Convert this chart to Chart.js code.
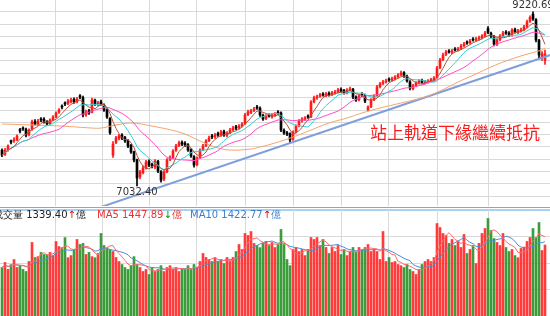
<!DOCTYPE html>
<html>
<head>
<meta charset="utf-8">
<script src="https://cdn.jsdelivr.net/npm/chart.js@4.4.0/dist/chart.umd.min.js"></script>
<style>
  body { margin: 0; width: 550px; height: 316px; overflow: hidden; background: #fff; position: relative; font-family: "DejaVu Sans", sans-serif; }
  #priceBox { position: absolute; left: 0; top: 0; width: 550px; height: 206px; }
  #volBox { position: absolute; left: 0; top: 210px; width: 550px; height: 106px; }
  .sepPink { position: absolute; left: 0; top: 207px; width: 550px; height: 1px; background: #ff66e6; }
  .sepBlue { position: absolute; left: 0; top: 209px; width: 550px; height: 2px; background: #a9d2f2; }
  .head { position: absolute; top: 208px; font-size: 10px; line-height: 13px; white-space: nowrap; }
  #note { position: absolute; left: 370px; top: 119px; font-family: "Noto Sans CJK TC", sans-serif; font-size: 17px; color: #ff1a1a; white-space: nowrap; }
</style>
</head>
<body>
<div id="priceBox"><canvas id="priceChart" width="550" height="206"></canvas></div>
<div class="sepPink"></div>
<div class="sepBlue"></div>
<div id="volBox"><canvas id="volChart" width="550" height="106"></canvas></div>
<div class="head" style="left:-7px;color:#222">成交量 1339.40<span style="color:#e00">↑</span>億</div>
<div class="head" style="left:97px;color:#f03030">MA5 1447.89<span style="color:#080">↓</span>億</div>
<div class="head" style="left:190px;color:#3a7ec8">MA10 1422.77<span style="color:#e00">↑</span>億</div>
<div id="note">站上軌道下緣繼續抵抗</div>
<script>
const opens = [7480,7430,7490,7600,7600,7615,7740,7760,7740,7680,7745,7840,7800,7875,7870,7840,7815,7865,7900,7960,
  8035,8075,8070,8090,8120,8090,8165,8140,7930,7975,7960,8110,8060,8090,8050,7990,7880,7420,7580,7630,
  7670,7640,7600,7540,7460,7360,7150,7200,7260,7340,7300,7270,7340,7210,7120,7210,7370,7390,7480,7540,
  7580,7570,7550,7490,7400,7300,7390,7490,7540,7600,7660,7650,7690,7670,7715,7670,7700,7740,7775,7760,
  7790,7815,7930,7955,7985,8020,8010,7920,7880,7920,7900,7920,7960,7950,7730,7700,7690,7620,7715,7790,
  7850,7870,7905,7900,8090,8140,8160,8185,8170,8195,8180,8200,8215,8245,8230,8205,8240,8245,8150,8115,
  8190,8170,7990,8030,8120,8170,8280,8320,8340,8370,8365,8380,8405,8430,8455,8410,8340,8255,8290,8330,
  8355,8325,8340,8355,8365,8395,8520,8620,8685,8725,8710,8750,8740,8760,8795,8835,8830,8875,8865,8880,
  8895,8920,9010,8950,8910,8810,8870,8920,8960,8950,8930,8995,8960,8980,8995,9035,9100,9190,9120,8860,
  8640,8610];
const highs = [7500,7505,7550,7610,7640,7675,7755,7775,7760,7750,7860,7865,7870,7890,7890,7855,7875,7915,7965,8005,
  8050,8090,8120,8135,8140,8145,8180,8160,7985,7995,8135,8125,8095,8110,8065,8000,7890,7590,7655,7680,
  7690,7655,7615,7555,7470,7370,7230,7285,7355,7360,7320,7365,7355,7225,7225,7375,7410,7490,7555,7595,
  7600,7590,7565,7500,7415,7400,7500,7555,7615,7660,7680,7695,7710,7730,7735,7715,7755,7780,7795,7805,
  7830,7945,7985,7995,8020,8045,8025,7935,7930,7940,7945,7955,7980,7965,7750,7720,7700,7725,7800,7865,
  7890,7905,7925,8105,8160,8175,8195,8205,8210,8215,8220,8235,8260,8265,8245,8255,8275,8260,8165,8180,
  8205,8185,8040,8130,8180,8295,8335,8360,8375,8390,8400,8420,8445,8475,8470,8425,8355,8310,8345,8370,
  8375,8360,8370,8385,8405,8535,8635,8700,8735,8745,8750,8770,8775,8810,8835,8855,8875,8895,8900,8915,
  8935,8975,9035,8965,8925,8885,8935,8975,8985,8970,9010,9015,9000,9015,9050,9115,9170,9220.69,9135,8875,
  8720,8740];
const lows = [7400,7415,7470,7560,7580,7600,7700,7730,7650,7660,7730,7795,7790,7840,7820,7790,7800,7850,7890,7945,
  8000,8040,8055,8075,8070,8075,8130,7900,7905,7930,7950,8045,8040,8045,7970,7880,7680,7390,7565,7610,
  7615,7580,7515,7440,7335,7032.4,7120,7185,7245,7275,7260,7250,7200,7080,7100,7200,7350,7375,7465,7525,
  7540,7525,7465,7390,7270,7285,7375,7475,7525,7590,7625,7630,7655,7655,7655,7650,7690,7725,7740,7745,
  7775,7805,7915,7940,7965,7995,7905,7855,7865,7895,7885,7905,7930,7715,7680,7665,7580,7605,7700,7775,
  7835,7855,7880,7890,8075,8120,8145,8160,8155,8160,8165,8185,8200,8210,8185,8190,8225,8130,8095,8100,
  8155,8080,7975,8015,8105,8160,8265,8305,8325,8345,8350,8365,8390,8415,8395,8335,8240,8240,8275,8315,
  8320,8310,8325,8340,8350,8385,8505,8605,8670,8700,8695,8725,8725,8745,8780,8810,8815,8850,8850,8865,
  8880,8905,8945,8895,8790,8795,8855,8905,8935,8910,8915,8950,8945,8965,8980,9020,9085,9110,8840,8640,
  8610,8560];
const closes = [7421,7484,7534,7584,7610,7660,7723,7748,7672,7735,7836,7811,7848,7861,7836,7811,7861,7898,7949,7986,
  8024,8062,8099,8112,8087,8125,8150,7924,7961,7949,8112,8062,8074,8062,7986,7898,7700,7560,7635,7660,
  7635,7597,7534,7459,7358,7132,7208,7258,7333,7296,7283,7346,7220,7107,7208,7358,7384,7471,7534,7572,
  7559,7547,7484,7409,7296,7384,7484,7534,7597,7635,7647,7672,7672,7710,7672,7698,7735,7760,7760,7785,
  7811,7924,7961,7974,7999,8012,7924,7873,7911,7911,7924,7936,7949,7735,7698,7685,7610,7710,7785,7848,
  7873,7886,7898,8087,8137,8150,8175,8175,8187,8175,8200,8212,8238,8225,8200,8238,8250,8150,8112,8162,
  8175,8099,8024,8112,8162,8275,8313,8338,8351,8363,8376,8401,8426,8451,8413,8351,8263,8288,8326,8351,
  8338,8338,8351,8363,8388,8514,8614,8677,8715,8715,8727,8740,8753,8790,8815,8828,8853,8866,8878,8891,
  8916,8953,8960,8916,8815,8866,8916,8953,8953,8928,8991,8966,8979,8991,9029,9092,9150,9130,8866,8677,
  8690,8690];
const volumes = [915,1010,880,970,1065,915,950,880,840,1030,1387,1104,1120,1200,1160,1160,1200,1140,1406,1310,
  1290,1480,1100,1140,1255,1444,1350,1370,1160,1200,1120,1100,1180,1557,1330,1290,1255,1217,1104,1028,
  972,915,878,950,1120,972,915,840,878,783,915,840,878,950,840,915,950,878,915,840,
  896,878,950,878,972,915,1028,1180,1104,1066,1028,1104,1028,1066,990,1104,1028,1104,1217,1349,
  1255,1557,1519,1594,1370,1330,1290,1370,1406,1330,1387,1293,1349,1632,1349,1066,950,1255,1293,1217,
  1255,1140,1255,1481,1444,1481,1330,1444,1293,1180,1293,1217,1330,1160,1255,1140,1217,1293,1200,1293,
  1255,1293,1349,1217,1255,1217,1066,1594,1028,1104,1010,1028,972,950,915,972,878,840,783,878,
  972,1028,1066,1028,1104,1745,1670,1557,1519,1370,1444,1330,1406,1293,1538,1180,1255,1330,990,1370,
  1557,1651,1840,1613,1462,1387,1330,1557,1293,1217,1255,1140,1100,1274,1300,1406,1481,1651,1481,1764,
  1236,1339.4];

// long moving average
const longMaDays = [0,10,20,30,33,38,43,50,60,66,71,76,83,86,91,97,103,109,115,120,126,133,141,146,152,158,163,168,174,180,181];
const longMaValues = [7811,7798,7785,7760,7760,7798,7823,7785,7698,7597,7522,7484,7497,7522,7572,7647,7735,7823,7886,7949,8012,8074,8150,8225,8338,8439,8527,8602,8677,8740,8765];

// lower channel line
const trendDays = [30, 183];
const trendValues = [6730, 8680];

const monthLines = [17.8, 33.5, 49.2, 64.8, 81.2, 97.2, 113.2, 128.8, 145.2, 162.2];
const priceLines = [9221,9066,8912,8757,8603,8449,8294,8140,7985,7831,7677,7522,7368,7213,7059,6904];
const volumeLines = [500, 1000, 1500];

const UP = "#ff1a1a";
const DOWN = "#000000";
const VOL_UP = "#ff3b3b";
const VOL_DOWN = "#3c9c3c";
const GRID = "#d9d9d9";

const days = closes.map((c, i) => i);
const isUp = days.map(i => closes[i] >= opens[i]);

function movingAverage(values, n) {
    return values.map((v, i) => {
        const part = values.slice(Math.max(0, i - n + 1), i + 1);
        return part.reduce((a, b) => a + b, 0) / part.length;
    });
}

function dayAxis() {
    return {
        type: "linear",
        min: -0.667,
        max: 182.667,
        offset: false,
        bounds: "data",
        grace: 0,
        afterBuildTicks: axis => { axis.ticks = monthLines.map(v => ({ value: v })); },
        ticks: { display: false },
        grid: { color: GRID, drawTicks: false, offset: false },
        border: { display: false },
    };
}

function valueAxis(min, max, lines) {
    return {
        min: min,
        max: max,
        beginAtZero: false,
        afterBuildTicks: axis => { axis.ticks = lines.map(v => ({ value: v })); },
        ticks: { display: false },
        grid: { color: GRID, drawTicks: false },
        border: { display: false },
    };
}

function maLine(values, color) {
    return {
        type: "line",
        data: days.map(i => ({ x: i, y: values[i] })),
        borderColor: color,
        borderWidth: 1,
        pointRadius: 0,
        tension: 0,
        order: 0,
    };
}

const extremeLabels = {
    id: "extremeLabels",
    afterDatasetsDraw(chart) {
        const { ctx, scales: { x, y } } = chart;
        const hi = highs.indexOf(Math.max(...highs));
        const lo = lows.indexOf(Math.min(...lows));
        ctx.save();
        ctx.font = "10px 'DejaVu Sans'";
        ctx.fillStyle = "#333";
        ctx.textAlign = "center";
        ctx.textBaseline = "bottom";
        ctx.fillText(highs[hi].toFixed(2), x.getPixelForValue(hi), y.getPixelForValue(highs[hi]) - 1);
        ctx.textBaseline = "top";
        ctx.fillText(lows[lo].toFixed(2), x.getPixelForValue(lo), y.getPixelForValue(lows[lo]) + 1);
        ctx.restore();
    },
};

new Chart("priceChart", {
    type: "bar",
    data: {
        datasets: [
            {
                data: days.map(i => ({ x: i, y: [lows[i], highs[i]] })),
                backgroundColor: days.map(i => isUp[i] ? UP : DOWN),
                barThickness: 1,
                grouped: false,
                order: 2,
            },
            {
                data: days.map(i => ({ x: i, y: [opens[i], closes[i]] })),
                backgroundColor: days.map(i => isUp[i] ? UP : DOWN),
                barThickness: 2,
                minBarLength: 1,
                grouped: false,
                order: 1,
            },
            maLine(movingAverage(closes, 5), "#b0563a"),
            maLine(movingAverage(closes, 10), "#35d0d8"),
            maLine(movingAverage(closes, 20), "#ff4fc4"),
            {
                type: "line",
                data: longMaDays.map((d, k) => ({ x: d, y: longMaValues[k] })),
                borderColor: "#f5a46c",
                borderWidth: 1,
                pointRadius: 0,
                tension: 0.4,
                order: 0,
            },
            {
                type: "line",
                data: trendDays.map((d, k) => ({ x: d, y: trendValues[k] })),
                borderColor: "#7f9fdc",
                borderWidth: 2,
                pointRadius: 0,
                order: 0,
            },
        ],
    },
    options: {
        responsive: false,
        animation: false,
        devicePixelRatio: 1,
        layout: { padding: 0, autoPadding: false },
        plugins: { legend: { display: false }, tooltip: { enabled: false } },
        scales: {
            x: dayAxis(),
            y: valueAxis(6781, 9368, priceLines),
        },
    },
    plugins: [extremeLabels],
});

new Chart("volChart", {
    type: "bar",
    data: {
        datasets: [
            {
                data: days.map(i => ({ x: i, y: volumes[i] })),
                backgroundColor: days.map(i => isUp[i] ? VOL_UP : VOL_DOWN),
                barThickness: 2,
                order: 1,
            },
            maLine(movingAverage(volumes, 5), "#ff6a6a"),
            maLine(movingAverage(volumes, 10), "#4a90d8"),
        ],
    },
    options: {
        responsive: false,
        animation: false,
        devicePixelRatio: 1,
        layout: { padding: 0, autoPadding: false },
        plugins: { legend: { display: false }, tooltip: { enabled: false } },
        scales: {
            x: dayAxis(),
            y: valueAxis(0, 2000, volumeLines),
        },
    },
});
</script>
</body>
</html>
